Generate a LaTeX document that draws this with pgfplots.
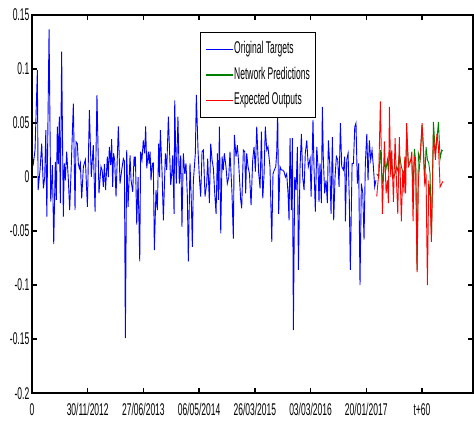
\documentclass[border=0pt]{standalone}
\usepackage{fontspec}
\setmainfont{Liberation Sans}[FakeStretch=0.5]
\usepackage{pgfplots}
\pgfplotsset{compat=1.18}
\definecolor{mgreen}{RGB}{0,128,0}

\begin{document}
\begin{tikzpicture}
\begin{axis}[
    name=main,
    scale only axis,
    width=441pt, height=378pt,
    xmin=0, xmax=396, ymin=-0.2, ymax=0.15,
    xtick={0,50,100,150,200,250,300,350},
    xticklabels={0,30/11/2012,27/06/2013,06/05/2014,26/03/2015,03/03/2016,20/01/2017,t+60},
    ytick={-0.2,-0.15,-0.1,-0.05,0,0.05,0.1,0.15},
    yticklabels={-0.2,-0.15,-0.1,-0.05,0,0.05,0.1,0.15},
    tick align=inside, major tick length=5pt,
    axis line style={line width=1.6pt, black},
    tick style={line width=1.4pt, black},
    tick label style={font=\fontsize{17pt}{20pt}\selectfont},
    xticklabel style={inner sep=0pt, yshift=-10pt},
    yticklabel style={inner sep=0pt, xshift=-2.5pt},
    legend style={at={(0.38,0.955)}, anchor=north west, line width=1.2pt,
        fill=white, font=\fontsize{17pt}{20pt}\selectfont,
        inner xsep=5.5pt, inner ysep=8.8pt, row sep=9.2pt,
        nodes={inner sep=0pt, text height=12.5pt, text depth=3.8pt}},
    legend cell align=left,
    legend image code/.code={\draw[#1, line width=1.4pt] (0pt,0pt) -- (27pt,0pt);},
]
\addplot[draw=blue, line width=0.9pt] coordinates {
(0,0.019) (1.2,0.0127) (2.7,0.025) (4.8,0.099) (5.5,-0.012) (7.2,0.0065) (8.7,0.031)
(10.2,-0.0105) (11.4,0.0) (12.4,0.0435) (13.3,-0.0367) (15.3,0.1367) (16.8,-0.0228)
(18.3,0.011) (19.5,-0.062) (20.9,0.014) (21.8,-0.021) (22.7,0.0466) (23.6,0.012)
(24.5,0.0559) (25.4,-0.024) (26.6,0.116) (28.1,-0.0367) (29,0.0127) (29.9,-0.003)
(31.1,0.0235) (32.5,0.0) (33.8,-0.0306) (35.3,0.0127) (37.1,0.068) (38.6,-0.0306)
(39.5,0.0327) (40.7,0.031) (41.6,0.012) (42.5,0.008) (43.4,0.0127) (44.6,-0.0198)
(46.1,0.0096) (47.9,0.016) (49.7,-0.0275) (51.5,0.062) (53.2,0.0003) (55,0.0296)
(56.6,-0.032) (58.3,0.0759) (60.1,-0.015) (61.9,0.0096) (63,0.006) (64,-0.009)
(65,0.012) (66,-0.012) (67.6,0.019) (68.5,0.0) (69.4,0.028) (70.6,0.011) (71.5,0.035)
(72.4,-0.009) (73.2,0.022) (74.2,0.016) (75.4,-0.018) (77.5,0.047) (79,-0.006)
(80.5,0.0065) (82,0.017) (82.9,0.015) (83.8,-0.149) (85,0.025) (86.2,-0.0275)
(88,0.020) (88.9,-0.003) (90.4,-0.0136) (91.6,0.019) (92.3,0.01) (92.8,0.019)
(94,-0.044) (95.2,0.0) (96.7,-0.078) (97.5,0.0235) (98.7,0.016) (99.9,0.034)
(101.1,0.022) (102,0.047) (103,0.008) (104.4,0.0235) (105.2,0.012) (106,0.0235)
(106.8,-0.003) (108,0.0127) (108.9,0.013) (109.8,-0.0676) (111.3,-0.012)
(112.5,-0.0306) (113.7,0.031) (114.5,0.0) (115.2,0.0435) (116.7,0.005) (117.9,-0.040)
(119.7,0.022) (120.9,0.0065) (122.4,0.056) (124.5,-0.0074) (125.4,0.003) (126.3,0.020)
(127.5,-0.034) (128.1,0.071) (129.5,-0.006) (131,0.056) (132.2,-0.006) (133.5,0.020)
(134.6,-0.046) (135.8,0.022) (137.1,0.003) (138.2,0.0127) (139.4,-0.0167)
(140.3,-0.078) (141.8,0.0127) (143,-0.023) (143.9,-0.0645) (144.8,-0.004)
(146.6,0.022) (147.5,0.076) (149,0.025) (150.2,0.0) (151.4,-0.018) (152.6,0.0235)
(153.8,0.025) (155.3,-0.018) (156.8,-0.006) (157.7,0.017) (159.2,-0.024)
(160.4,0.031) (161.6,0.016) (162.8,0.008) (164,-0.015) (165.2,-0.034) (166.4,0.022)
(167.3,-0.021) (168.2,0.0466) (169.4,-0.052) (170.6,0.019) (171.7,0.0065)
(172.6,0.022) (174.1,0.0096) (175.3,-0.006) (176.6,0.0) (177.7,0.0235) (179.5,-0.015)
(180.7,-0.057) (181.6,0.039) (183.1,0.019) (184.3,0.0296) (185.5,0.0127)
(187.3,-0.021) (188.2,-0.029) (189.7,0.025) (190.9,0.0235) (191.8,-0.015)
(192.7,0.022) (193.9,0.0096) (195.2,0.003) (196.6,-0.026) (198.1,0.016) (199.3,0.028)
(200.5,0.005) (201.7,0.0466) (203.5,0.003) (204.7,-0.0105) (205.9,0.042)
(207.1,-0.0198) (208.3,0.003) (209.4,0.0466) (210.7,0.025) (211.8,0.028)
(213.6,0.0096) (215.2,-0.060) (216.3,0.003) (217.5,0.0065) (218.8,0.0096)
(219.6,0.022) (220.5,0.062) (221.4,-0.034) (222.6,0.0096) (223.8,0.0065) (225,0.0065)
(226.2,0.005) (227.4,0.0) (228.6,0.003) (229.8,-0.015) (230.7,-0.040) (231.6,0.036)
(232.8,-0.0306) (233.7,0.036) (234.6,-0.1417) (235.8,0.0) (237,-0.012) (238.2,0.028)
(239.1,-0.086) (240.6,0.0096) (241.8,0.040) (243,-0.001) (244.2,-0.012) (245.3,0.022)
(246.6,0.034) (248,0.0096) (249.6,0.017) (250.5,-0.018) (251.3,0.0127) (252.2,0.053)
(253.1,0.0096) (254.3,-0.032) (255.6,0.028) (256.7,0.0096) (257.6,-0.023)
(258.5,0.0127) (259.7,-0.024) (260.6,0.065) (261.5,0.016) (262.7,-0.015)
(263.9,-0.003) (265.1,-0.024) (266,0.034) (267.2,0.0127) (268.4,-0.034) (269.6,0.037)
(270.8,-0.040) (272,0.0) (273.2,0.019) (274.4,0.016) (275.6,-0.009) (276.8,0.050)
(278,0.0096) (279.5,0.0065) (280.7,0.019) (281.3,-0.041) (282.5,0.016) (283.7,0.022)
(284.8,-0.021) (285.7,-0.086) (287.3,0.0127) (288.5,0.0127) (289.7,0.0466)
(290.8,0.050) (292,-0.006) (293.2,0.0127) (294.4,-0.100) (295.6,-0.006)
(296.9,-0.015) (298,-0.058) (299.2,0.0127) (300.5,0.040) (301.6,-0.003) (302.8,0.034)
(304,0.016) (305.2,0.025) (306.4,0.0096) (307.6,-0.009) (308.7,-0.003)
};
\addlegendentry{Original Targets}
\addplot[draw=mgreen, line width=0.9pt] coordinates {
(309.4,0.003) (311.2,0.0) (312.7,0.025) (314.5,-0.006) (316.3,0.0127) (317.8,0.008)
(319,0.016) (319.9,0.005) (320.8,0.025) (322,0.012) (322.9,0.013) (324.4,0.0)
(325.9,0.003) (327,0.0096) (328.3,0.006) (329.7,0.022) (331.5,0.0096) (332.8,0.005)
(333.9,0.003) (334.6,0.016) (335.4,0.010) (336.3,0.040) (337.8,0.0127) (339,0.014)
(340,0.016) (340.9,0.015) (342,-0.012) (343.2,0.026) (344.4,0.015) (345.6,-0.086)
(346.8,0.022) (348.3,0.016) (350.1,0.048) (351.3,0.028) (352.5,-0.006) (353.7,0.028)
(354.9,0.016) (356.1,0.013) (357.3,0.003) (358.5,-0.058) (360.3,0.051) (362.1,0.022)
(363.4,0.034) (364.8,0.051) (366.3,0.017) (367.8,0.025) (368.7,0.024)
};
\addlegendentry{Network Predictions}
\addplot[draw=red, line width=0.9pt] coordinates {
(309.4,-0.018) (311.2,0.003) (312.7,0.070) (314.5,-0.034) (316.3,0.033) (317.8,-0.015)
(319,-0.003) (319.9,-0.024) (320.8,0.065) (322,0.0) (322.9,0.025) (324.4,-0.023)
(325.9,0.036) (327,0.0) (328.3,-0.034) (329.7,0.037) (331.5,-0.041) (332.8,0.0065)
(333.9,-0.015) (334.6,0.019) (335.4,-0.015) (336.3,0.050) (337.8,0.0096) (339,0.012)
(340,0.016) (340.9,0.0235) (342,-0.041) (343.2,0.019) (344.4,0.0096) (345.6,-0.088)
(346.8,-0.003) (348.3,0.016) (350.1,0.050) (351.3,0.025) (352.5,-0.006) (353.7,0.0)
(354.9,-0.100) (356.1,-0.003) (357.3,-0.018) (358.5,-0.060) (360.3,0.040)
(362.1,0.016) (363.4,0.040) (364.8,0.028) (366.3,-0.009) (367.8,-0.006) (368.7,-0.004)
};
\addlegendentry{Expected Outputs}
\end{axis}
\draw[line width=1.6pt] (main.south west) rectangle (main.north east);
\path ([shift={(-32pt,-28pt)}]main.south west) rectangle ([shift={(0pt,15pt)}]main.north east);
\end{tikzpicture}
\end{document}
